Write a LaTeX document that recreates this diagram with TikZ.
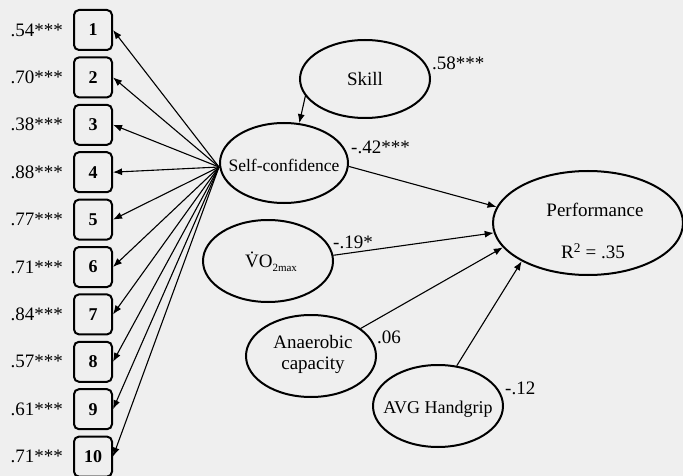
\documentclass[tikz,border=0pt]{standalone}
\usepackage{fontspec}
\setmainfont{Liberation Serif}
\usetikzlibrary{shapes.geometric,arrows.meta}
\definecolor{bg}{RGB}{239,239,239}
\begin{document}
\begin{tikzpicture}[x=1pt,y=-1pt,
  lat/.style={ellipse,draw,line width=2pt,inner sep=0pt},
  intext/.style={inner sep=0pt,align=center,font=\fontsize{19}{21}\selectfont},
  item/.style={rectangle,draw,line width=2pt,rounded corners=5pt,minimum width=38pt,minimum height=40pt,inner sep=0pt,font=\bfseries\fontsize{18}{18}\selectfont},
  coef/.style={font=\fontsize{19}{19}\selectfont,inner sep=0pt},
  arr/.style={line width=1.1pt,-{Latex[length=9pt,width=7pt]}}]
\fill[bg] (0,0) rectangle (683,476);
\useasboundingbox (0,0) rectangle (683,476);
\begin{scope}
\clip (0,0) rectangle (683,476);
% latent variables
\node[lat,minimum width=130pt,minimum height=78pt] (skill) at (365,79) {};
\node[intext] (skillt) at (skill.center) {Skill};
\node[lat,minimum width=128pt,minimum height=80pt] (self) at (284,163) {};
\node[intext,font=\fontsize{17.5}{19}\selectfont] (selft) at (284,165) {Self-confidence};
\node[lat,minimum width=190pt,minimum height=104pt] (perf) at (588,223) {};
\node[intext] (perft) at (595,210) {Performance};
\node[intext] (r2) at (593,251) {R\textsuperscript{2} = .35};
\node[lat,minimum width=130pt,minimum height=82pt] (vo2) at (268,261) {};
\node[intext] (vo2t) at (271,262) {\.{V}O\raisebox{-4pt}{\fontsize{11}{11}\selectfont 2max}};
\node[lat,minimum width=130pt,minimum height=82pt] (ana) at (311,356) {};
\node[intext,font=\fontsize{19}{21}\selectfont] (anat) at (313,354) {Anaerobic\\capacity};
\node[lat,minimum width=130pt,minimum height=82pt] (hg) at (438,406) {};
\node[intext,font=\fontsize{18}{20}\selectfont] (hgt) at (438,409) {AVG Handgrip};
% items
\foreach \i/\c in {1/.54***,2/.70***,3/.38***,4/.88***,5/.77***,6/.71***,7/.84***,8/.57***,9/.61***,10/.71***}{
  \node[item] (b\i) at (93,{30+47.4*(\i-1)}) {\i};
  \node[coef,anchor=east] (l\i) at (63,{30+47.4*(\i-1)}) {\c};
  \draw[arr] ([yshift=-4pt]self.west) -- (b\i.east);
}
% structural paths
\draw[arr] (skill.196) -- (self.69);
\draw[arr] (self.357) -- (perf.170);
\draw[arr] (vo2.5) -- (perf.186);
\draw[arr] (ana.29) -- (perf.196);
\draw[arr] (hg.65) -- (perf.210);
% coefficients
\node[coef,anchor=west] (cskill) at (432,63) {.58***};
\node[coef,anchor=west] (cself) at (351,147) {-.42***};
\node[coef,anchor=west] (cvo2) at (333,242) {-.19*};
\node[coef,anchor=west] (cana) at (377,337) {.06};
\node[coef,anchor=west] (chg) at (505,388) {-.12};
\end{scope}
\end{tikzpicture}
\end{document}
